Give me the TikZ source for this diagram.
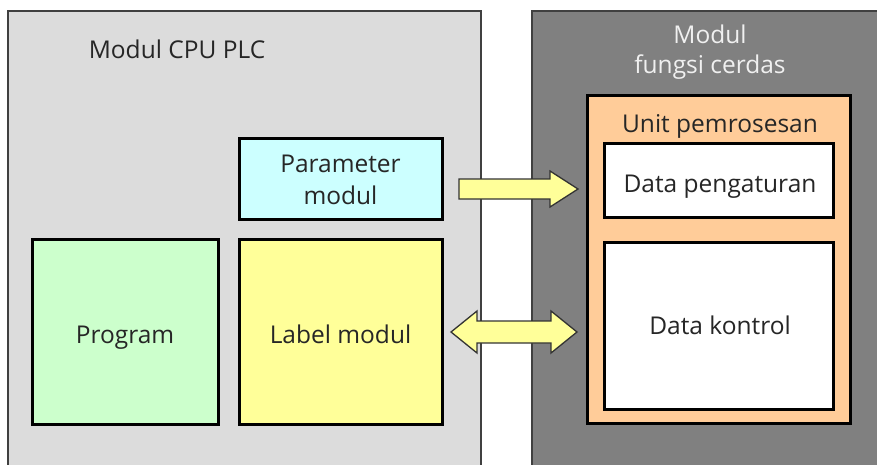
\documentclass[tikz,border=0pt]{standalone}
\usepackage{fontspec}
\setmainfont{Open Sans}
\begin{document}
\begin{tikzpicture}[x=1pt,y=-1pt,
  outerbox/.style={draw=black!75,line width=1.5pt},
  innerbox/.style={draw=black,line width=3pt,inner sep=0pt},
  lbl/.style={font=\fontsize{24.5}{31}\selectfont,text=black!85,align=center,inner sep=0pt,anchor=base},
  blockarrow/.style={draw=black!80,line width=1.3pt,fill=arrowyellow,line join=miter}]
\definecolor{lightgraybg}{HTML}{DCDCDC}
\definecolor{darkgraybg}{HTML}{808080}
\definecolor{paramcyan}{HTML}{CCFFFF}
\definecolor{proggreen}{HTML}{CCFFCC}
\definecolor{labelyellow}{HTML}{FFFF99}
\definecolor{unitorange}{HTML}{FFCC99}
\definecolor{arrowyellow}{HTML}{FFFF99}
\useasboundingbox (0,0) rectangle (877,464);
\clip (0,0) rectangle (877,464);
\fill[white] (0,0) rectangle (877,464);
% outer modules
\draw[outerbox,fill=lightgraybg] (8,11) rectangle (481,490);
\draw[outerbox,fill=darkgraybg] (532,11) rectangle (900,490);
\node[lbl] (cputitle) at (177,58) {Modul CPU PLC};
\node[lbl,text=white!94!black,font=\fontsize{24.5}{30}\selectfont] (ifmtitle) at (710,73) {Modul\\fungsi cerdas};
% CPU contents
\node[innerbox,fill=paramcyan,minimum width=203,minimum height=81] (param) at (340.5,178.5) {};
\node[lbl,font=\fontsize{24.5}{32}\selectfont] (paramtext) at (340.5,204) {Parameter\\modul};
\node[innerbox,fill=proggreen,minimum width=186,minimum height=185] (prog) at (125,331.5) {};
\node[lbl] (progtext) at (125,343) {Program};
\node[innerbox,fill=labelyellow,minimum width=203,minimum height=185] (labelmod) at (340.5,331.5) {};
\node[lbl] (labeltext) at (340.5,343) {Label modul};
% intelligent function module contents
\node[innerbox,fill=unitorange,minimum width=263,minimum height=328] (unit) at (718.5,259) {};
\node[lbl] (unittitle) at (720,132) {Unit pemrosesan};
\node[innerbox,fill=white,minimum width=229,minimum height=74] (setdata) at (718.5,180) {};
\node[lbl] (settext) at (720,192) {Data pengaturan};
\node[innerbox,fill=white,minimum width=229,minimum height=167] (ctrldata) at (718.5,325.5) {};
\node[lbl] (ctrltext) at (720,334) {Data kontrol};
% arrows
\draw[blockarrow] (459,179) -- (550,179) -- (550,171) -- (578,189) -- (550,207) -- (550,199) -- (459,199) -- cycle;
\draw[blockarrow] (451,332) -- (477,311) -- (477,321) -- (551,321) -- (551,311) -- (577,332)
  -- (551,353) -- (551,343) -- (477,343) -- (477,353) -- cycle;
\end{tikzpicture}
\end{document}
